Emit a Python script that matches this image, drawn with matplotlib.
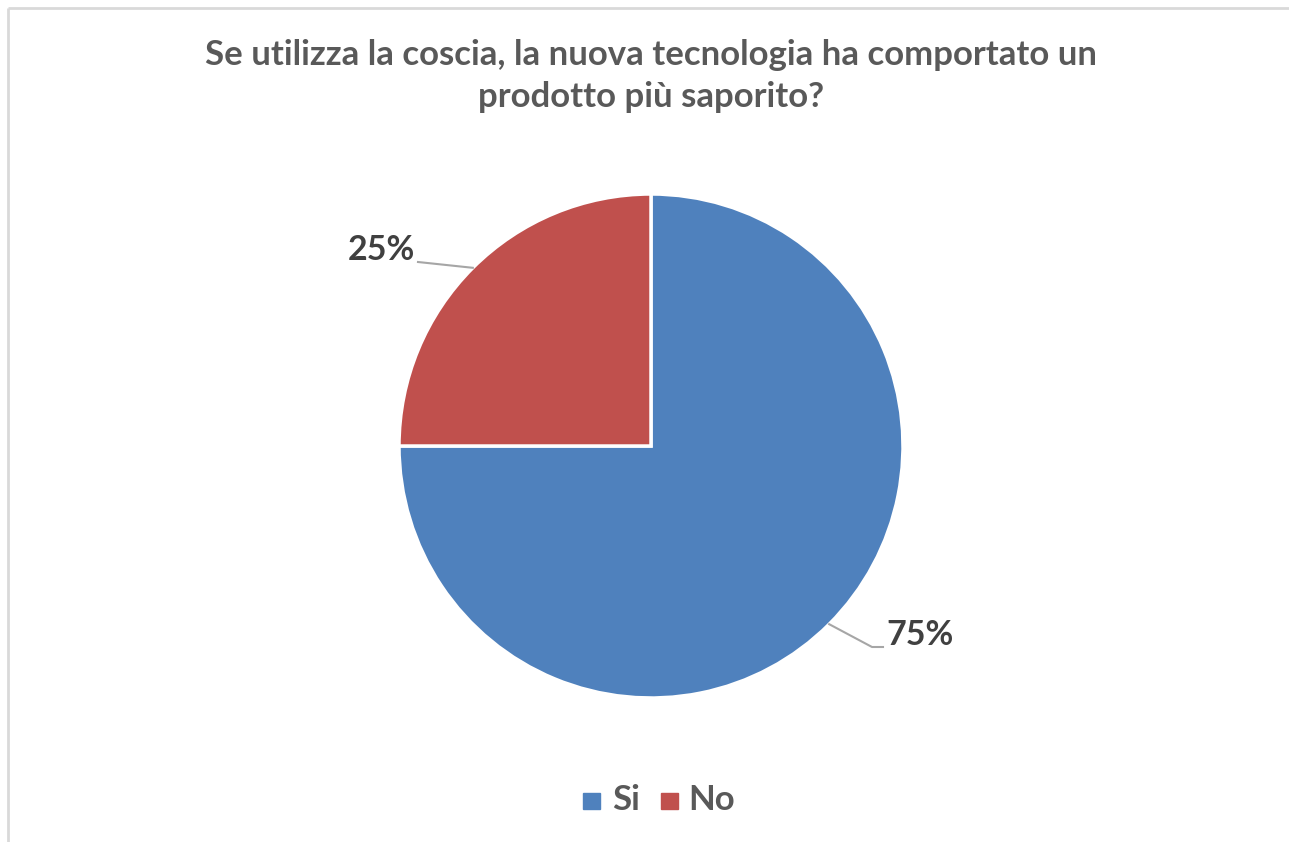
import matplotlib
matplotlib.use("Agg")
import matplotlib.pyplot as plt
import numpy as np
from matplotlib.patches import Rectangle

# Survey answers
categories = ["Si", "No"]
shares = [75, 25]
colors = ["#4F81BD", "#C0504D"]
title = "Se utilizza la coscia, la nuova tecnologia ha comportato un\nprodotto più saporito?"

W, H = 1289, 842
fig = plt.figure(figsize=(W / 100, H / 100), dpi=100)
ax = fig.add_axes([0, 0, 1, 1])

plt.rcParams["font.family"] = ["Lato", "DejaVu Sans"]

cx, cy, r = 651, H - 446, 252
wedges, _ = ax.pie(shares, colors=colors, startangle=90, counterclock=False,
                   center=(cx, cy), radius=r, frame=True,
                   wedgeprops=dict(edgecolor="white", linewidth=2.5))
ax.set_xlim(0, W)
ax.set_ylim(0, H)
ax.set_aspect("equal")
ax.axis("off")

# chart-area frame (top and left edges visible)
ax.plot([8, 8], [0, H - 8], color="#D9D9D9", lw=2, solid_capstyle="butt")
ax.plot([8, W], [H - 8, H - 8], color="#D9D9D9", lw=2, solid_capstyle="butt")

# data labels with leader lines
label_pos = {"Si": (920, H - 635), "No": (381, H - 250)}
for w, cat, val in zip(wedges, categories, shares):
    mid = np.deg2rad((w.theta1 + w.theta2) / 2)
    ex, ey = cx + r * np.cos(mid), cy + r * np.sin(mid)
    lx, ly = label_pos[cat]
    if cat == "Si":
        xs = [ex, lx - 48, lx - 37]
        ys = [ey, ly - 12, ly - 12]
    else:
        xs = [ex, lx + 37]
        ys = [ey, ly - 12]
    ax.plot(xs, ys, color="#A6A6A6", lw=1.5, zorder=1)
    ax.text(lx, ly, f"{val}%", ha="center", va="center", fontsize=24.5,
            fontweight="bold", color="#404040")

ax.text(651, H - 76, title, ha="center", va="center", fontsize=25,
        fontweight="bold", color="#595959", linespacing=1.36)

# legend
for (x0, tx), cat, col in zip([(583, 612), (661, 688)], categories, colors):
    ax.add_patch(Rectangle((x0, H - 809), 17, 16, color=col))
    ax.text(tx, H - 800, cat, ha="left", va="center", fontsize=25,
            fontweight="bold", color="#595959")

fig.savefig("out.png", dpi=100)
